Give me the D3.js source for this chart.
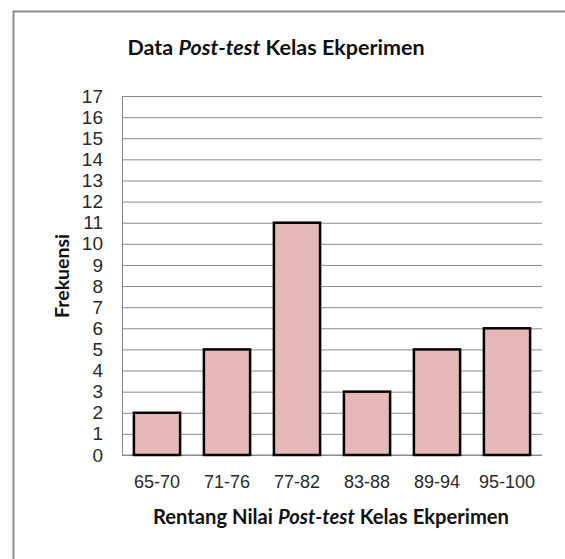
<!DOCTYPE html>
<html>
<head>
<meta charset="utf-8">
<script src="https://cdn.jsdelivr.net/npm/d3@7"></script>
<style>
  body { margin: 0; background: #fff; }
  svg { display: block; font-family: Lato, "Open Sans", sans-serif; }
</style>
</head>
<body>
<div id="chart"></div>
<script>
// data
var categories = ["65-70", "71-76", "77-82", "83-88", "89-94", "95-100"];
var frekuensi = [2, 5, 11, 3, 5, 6];
var yTicks = d3.range(0, 18);

var width = 565, height = 559;
var margin = {left: 122, right: 23, top: 96, bottom: 104};

var svg = d3.select("#chart").append("svg")
    .attr("width", width)
    .attr("height", height)

// outer chart frame (right/bottom run off the picture)
svg.append("path")
    .attr("d", "M13.5," + height + " V11.5 H" + width)
    .attr("fill", "none")
    .attr("stroke", "#8c8c8c")
    .attr("stroke-width", 2)

var x = d3.scaleBand()
    .domain(categories)
    .range([margin.left, width - margin.right])
    .paddingInner(0.34)
    .paddingOuter(0.17)

var y = d3.scaleLinear()
    .domain([0, 17])
    .range([height - margin.bottom, margin.top])

// gridlines
svg.append("g")
    .attr("transform", "translate(" + margin.left + ",0)")
    .call(d3.axisLeft(y).tickValues(yTicks).tickSize(-(width - margin.left - margin.right)).tickFormat(""))
    .call(function(g){ g.select(".domain").remove() })
    .selectAll("line")
    .attr("stroke", "#8a8a8a")
    .attr("stroke-width", 1)

// y axis
var yAxis = svg.append("g")
    .attr("transform", "translate(" + margin.left + ",0)")
    .call(d3.axisLeft(y).tickValues(yTicks).tickSize(0).tickPadding(19))
yAxis.select(".domain").attr("stroke", "#8a8a8a")
yAxis.selectAll("text")
    .style("font-size", "19px")
    .style("fill", "#2a2a2a")

// x axis
var xAxis = svg.append("g")
    .attr("transform", "translate(0," + (height - margin.bottom) + ")")
    .call(d3.axisBottom(x).tickSize(0).tickPadding(20))
xAxis.select(".domain").attr("stroke", "#8a8a8a").attr("d", "M" + margin.left + ",0H" + (width - margin.right))
xAxis.selectAll("text")
    .style("font-size", "18px")
    .style("fill", "#2a2a2a")

// bars
svg.selectAll("rect.bar")
    .data(frekuensi)
    .enter()
    .append("rect")
    .attr("class", "bar")
    .attr("x", function(d, i){ return x(categories[i]) })
    .attr("y", function(d){ return y(d) })
    .attr("width", x.bandwidth())
    .attr("height", function(d){ return y(0) - y(d) })
    .style("fill", "#e6b8b7")
    .style("stroke", "#000")
    .style("stroke-width", 2.5)

// title
var title = svg.append("text")
    .attr("x", 276)
    .attr("y", 55)
    .attr("text-anchor", "middle")
    .style("font-size", "21.5px")
    .style("font-weight", "bold")
    .style("fill", "#111")
title.append("tspan").text("Data ")
title.append("tspan").style("font-style", "italic").text("Post-test")
title.append("tspan").text(" Kelas Ekperimen")

// x axis title
var xt = svg.append("text")
    .attr("x", 331)
    .attr("y", 524)
    .attr("text-anchor", "middle")
    .style("font-size", "20.2px")
    .style("font-weight", "bold")
    .style("fill", "#111")
xt.append("tspan").text("Rentang Nilai ")
xt.append("tspan").style("font-style", "italic").text("Post-test")
xt.append("tspan").text(" Kelas Ekperimen")

// y axis title
svg.append("text")
    .attr("transform", "translate(69,276) rotate(-90)")
    .attr("text-anchor", "middle")
    .style("font-size", "19.5px")
    .style("font-weight", "bold")
    .style("fill", "#111")
    .text("Frekuensi")
</script>
</body>
</html>
